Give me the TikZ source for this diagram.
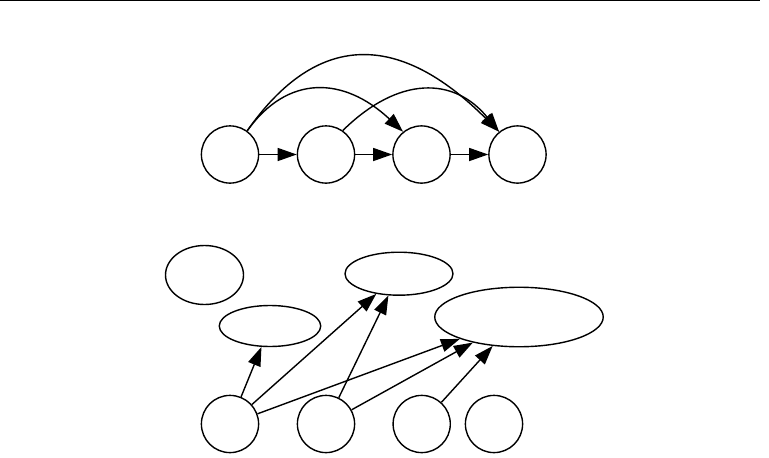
\documentclass[tikz,border=0pt]{standalone}
\usetikzlibrary{arrows.meta,shapes.geometric}
\begin{document}
\begin{tikzpicture}[x=1pt,y=-1pt,
  circ/.style={draw,circle,inner sep=0pt,minimum size=57.2pt,line width=1.4pt},
  ell/.style={draw,ellipse,inner sep=0pt,line width=1.4pt},
  arr/.style={-{Triangle[length=19pt,width=13pt]},line width=1.4pt}]
\useasboundingbox (0,0) rectangle (769,458);
\coordinate (L1) at (0,0.7);
\coordinate (L2) at (760,0.7);
\draw[line width=1.4pt] (L1) -- (L2);
% top chain
\node[circ] (A) at (230,154.5) {};
\node[circ] (B) at (326,154.5) {};
\node[circ] (C) at (421.5,154.5) {};
\node[circ] (D) at (517.5,154.5) {};
\draw[arr] (A) -- (B);
\draw[arr] (B) -- (C);
\draw[arr] (C) -- (D);
\draw[arr] (A.54) .. controls +(40,-56) and +(-60,-56) .. (C.129);
\draw[arr] (A.54) .. controls +(70,-100) and +(-100,-100) .. (D.129);
\draw[arr] (B.55) .. controls +(56,-55) and +(-45,-55) .. (D.129);
% bottom
\node[ell,minimum width=78pt,minimum height=59pt] (E1) at (204.5,275) {};
\node[ell,minimum width=101.5pt,minimum height=41pt] (E2) at (270,326) {};
\node[ell,minimum width=108pt,minimum height=43pt] (E3) at (399,273.7) {};
\node[ell,minimum width=168.5pt,minimum height=59.5pt] (E4) at (519,317) {};
\node[circ] (C1) at (230,424) {};
\node[circ] (C2) at (326,424) {};
\node[circ] (C3) at (421.7,424) {};
\node[circ] (C4) at (494,424) {};
\draw[arr] (C1) -- (E2);
\draw[arr] (C1) -- (E3);
\draw[arr] (C1) -- (E4);
\draw[arr] (C2) -- (E3);
\draw[arr] (C2) -- (E4);
\draw[arr] (C3) -- (E4);
\end{tikzpicture}
\end{document}
